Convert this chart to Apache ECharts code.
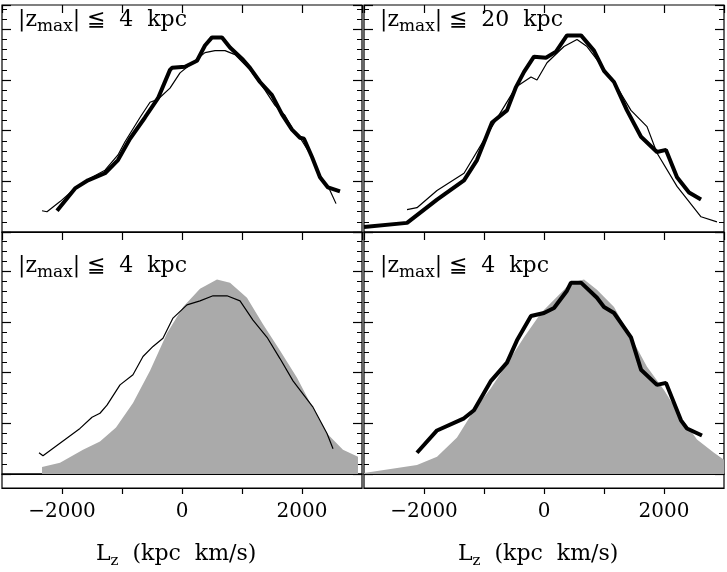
<!DOCTYPE html>
<html>
<head>
<meta charset="utf-8">
<script src="https://cdn.jsdelivr.net/npm/echarts@6/dist/echarts.min.js"></script>
<style>
  html, body { margin: 0; padding: 0; background: #fff; }
  #chart { width: 727px; height: 572px; }
</style>
</head>
<body>
<div id="chart"></div>
<script>
// L_z (kpc km/s), counts in arbitrary units
const tlThick = [[-2083,2.1],[-1783,4.3],[-1567,5.1],[-1283,5.8],[-1067,7.1],[-867,9.2],[-617,11.3],[-400,13.2],[-200,16.0],[-167,16.2],[50,16.3],[250,16.9],[383,18.4],[500,19.2],[667,19.2],[800,18.2],[1017,17.0],[1133,16.2],[1300,14.8],[1500,13.5],[1667,11.6],[1833,10.1],[1967,9.3],[2033,9.2],[2167,7.4],[2300,5.4],[2433,4.4],[2633,4.0]]
const tlThin = [[-2333,2.1],[-2250,2.0],[-2033,3.0],[-1783,4.3],[-1533,5.3],[-1283,6.1],[-1067,7.6],[-950,8.9],[-700,11.3],[-533,12.8],[-400,13.1],[-200,14.2],[-33,15.7],[133,16.5],[383,17.7],[550,17.9],[717,17.9],[883,17.5],[1133,16.0],[1383,14.0],[1550,12.5],[1717,11.5],[1850,10.1],[1967,9.3],[2167,7.4],[2300,5.6],[2467,4.1],[2567,2.8]]
const trThick = [[-3000,0.5],[-2283,0.9],[-1783,3.2],[-1333,5.1],[-1117,7.1],[-867,10.8],[-617,12.0],[-467,14.3],[-333,15.8],[-167,17.3],[33,17.2],[200,17.8],[383,19.4],[617,19.4],[833,17.9],[1000,15.9],[1167,14.8],[1383,12.0],[1617,9.4],[1883,7.9],[2033,8.1],[2217,5.4],[2417,3.9],[2617,3.2]]
const trThin = [[-2283,2.2],[-2117,2.4],[-1783,4.1],[-1333,5.8],[-867,10.4],[-467,14.3],[-217,15.3],[-117,15.0],[50,16.7],[333,18.3],[550,19.0],[717,18.3],[883,17.0],[1167,14.8],[1450,12.0],[1717,10.4],[1883,7.8],[2217,4.5],[2617,1.5],[2883,1.0]]
const blModel = [[-2333,0.7],[-2033,1.1],[-1650,2.4],[-1367,3.2],[-1100,4.6],[-817,7.0],[-533,10.2],[-250,13.9],[17,16.5],[300,18.3],[583,19.2],[800,18.9],[1083,17.4],[1350,14.8],[1633,12.2],[1917,9.5],[2183,6.5],[2417,4.0],[2683,2.4],[2933,1.7]]
const blThin = [[-2383,2.1],[-2317,1.8],[-1700,4.5],[-1500,5.6],[-1367,6.0],[-1250,6.8],[-1033,8.8],[-817,9.8],[-650,11.6],[-483,12.6],[-317,13.4],[-150,15.4],[83,16.7],[300,17.1],[517,17.6],[750,17.6],[967,17.1],[1183,15.2],[1417,13.5],[1633,11.4],[1850,9.2],[2183,6.6],[2417,4.0],[2517,2.5]]
const brModel = [[-3000,0.1],[-2117,0.9],[-1783,1.7],[-1450,3.6],[-1167,6.3],[-883,8.5],[-617,10.9],[-333,13.5],[-50,15.9],[217,17.5],[450,18.9],[667,19.2],[883,18.2],[1167,16.5],[1450,13.5],[1717,10.6],[2000,8.3],[2283,5.6],[2550,3.4],[2833,2.1],[3000,1.4]]
const brThick = [[-2117,2.1],[-1783,4.3],[-1333,5.5],[-1167,6.3],[-883,9.2],[-617,11.0],[-450,13.2],[-217,15.6],[0,15.9],[167,16.4],[383,18.1],[450,18.9],[617,18.9],[883,17.4],[1000,16.5],[1167,15.9],[1450,13.5],[1617,10.3],[1883,8.8],[2033,9.0],[2283,5.3],[2383,4.5],[2633,3.8]]
const titles = ['4', '20', '4', '4']
const xTickLabels = ['−2000', '0', '2000']

const font = 'DejaVu Serif'
const lefts = [2, 364]
const grid = [], xAxis = [], yAxis = []
const lineC = '#000'

// per column: 0 top panel, 1 lower panel, 2 strip, 3 thin helper above the top panel
lefts.forEach((l) => {
  grid.push({ left: l, width: 360, top: 5, height: 227, show: true, borderColor: lineC, borderWidth: 1.2 })
  grid.push({ left: l, width: 360, top: 232, height: 242, show: true, borderColor: lineC, borderWidth: 1.2 })
  grid.push({ left: l, width: 360, top: 474, height: 14, show: true, borderColor: lineC, borderWidth: 1.2 })
  grid.push({ left: l, width: 360, top: 0, height: 5, show: false })
})

for (let c = 0; c < 2; c++) {
  for (let r = 0; r < 4; r++) {
    const g = c * 4 + r
    const ticks = r !== 1
    xAxis.push({
      type: 'value', gridIndex: g, min: -3000, max: 3000, interval: 1000,
      position: 'bottom',
      axisLine: { show: r !== 3, onZero: false, lineStyle: { color: lineC, width: 1.2 } },
      axisTick: { show: ticks, inside: false, length: r === 2 ? 6 : 8, lineStyle: { color: lineC, width: 1.2 } },
      splitLine: { show: false },
      axisLabel: {
        show: r === 2, margin: 14, fontFamily: font, fontSize: 20, color: '#000', showMinLabel: false, showMaxLabel: false,
        formatter: (v) => v === -2000 ? xTickLabels[0] : v === 0 ? xTickLabels[1] : v === 2000 ? xTickLabels[2] : ''
      }
    })
  }
  const ranges = [[0, 22.4], [0, 23.9]]
  ranges.forEach((rg, r) => {
    ['left', 'right'].forEach((pos) => {
      yAxis.push({
        type: 'value', gridIndex: c * 4 + r, min: rg[0], max: rg[1], interval: 5, position: pos,
        axisLine: { show: false, onZero: false },
        axisTick: { inside: true, length: 9, lineStyle: { color: lineC, width: 1.2 } },
        minorTick: { show: true, splitNumber: 5, length: 5, lineStyle: { color: lineC, width: 1 } },
        splitLine: { show: false }, axisLabel: { show: false }
      })
    })
  })
  ;[2, 3].forEach((r) => {
    yAxis.push({ type: 'value', gridIndex: c * 4 + r, min: -1, max: 0, axisLine: { show: false, onZero: false },
      axisTick: { show: false }, axisLabel: { show: false }, splitLine: { show: false } })
  })
}

const thick = (d, xi, yi) => ({ type: 'line', data: d, xAxisIndex: xi, yAxisIndex: yi, symbol: 'none', lineStyle: { color: '#000', width: 4 }, z: 4 })
const thin = (d, xi, yi) => ({ type: 'line', data: d, xAxisIndex: xi, yAxisIndex: yi, symbol: 'none', lineStyle: { color: '#000', width: 1.2 }, z: 3 })
const model = (d, xi, yi) => ({ type: 'line', data: d, xAxisIndex: xi, yAxisIndex: yi, symbol: 'none', lineStyle: { width: 0 }, areaStyle: { color: '#aaaaaa', opacity: 1 }, z: 2 })

const series = [
  thick(tlThick, 0, 0), thin(tlThin, 0, 0),
  thick(trThick, 4, 6), thin(trThin, 4, 6),
  model(blModel, 1, 2), thin(blThin, 1, 2),
  model(brModel, 5, 8), thick(brThick, 5, 8)
]

const titlePos = [[18, 9], [380, 9], [18, 255], [380, 255]]
const graphic = titlePos.map((p, i) => ({
  type: 'text', left: p[0], top: p[1],
  style: {
    text: '{a||z}{s|max}{a|| ≦  ' + titles[i] + '  kpc}',
    rich: {
      a: { fontFamily: font, fontSize: 22, fill: '#000' },
      s: { fontFamily: font, fontSize: 17, fill: '#000', padding: [13, 0, 0, 0] }
    }
  }
}))
;[182, 544].forEach((cx) => {
  graphic.push({
    type: 'text', left: cx - 86, top: 543,
    style: {
      text: '{a|L}{s|z}{a|  (kpc  km/s)}',
      rich: {
        a: { fontFamily: font, fontSize: 22, fill: '#000' },
        s: { fontFamily: font, fontSize: 15, fill: '#000', padding: [14, 0, 0, 0] }
      }
    }
  })
})

const chart = echarts.init(document.getElementById('chart'))
chart.setOption({ animation: false, grid, xAxis, yAxis, series, graphic })
</script>
</body>
</html>
